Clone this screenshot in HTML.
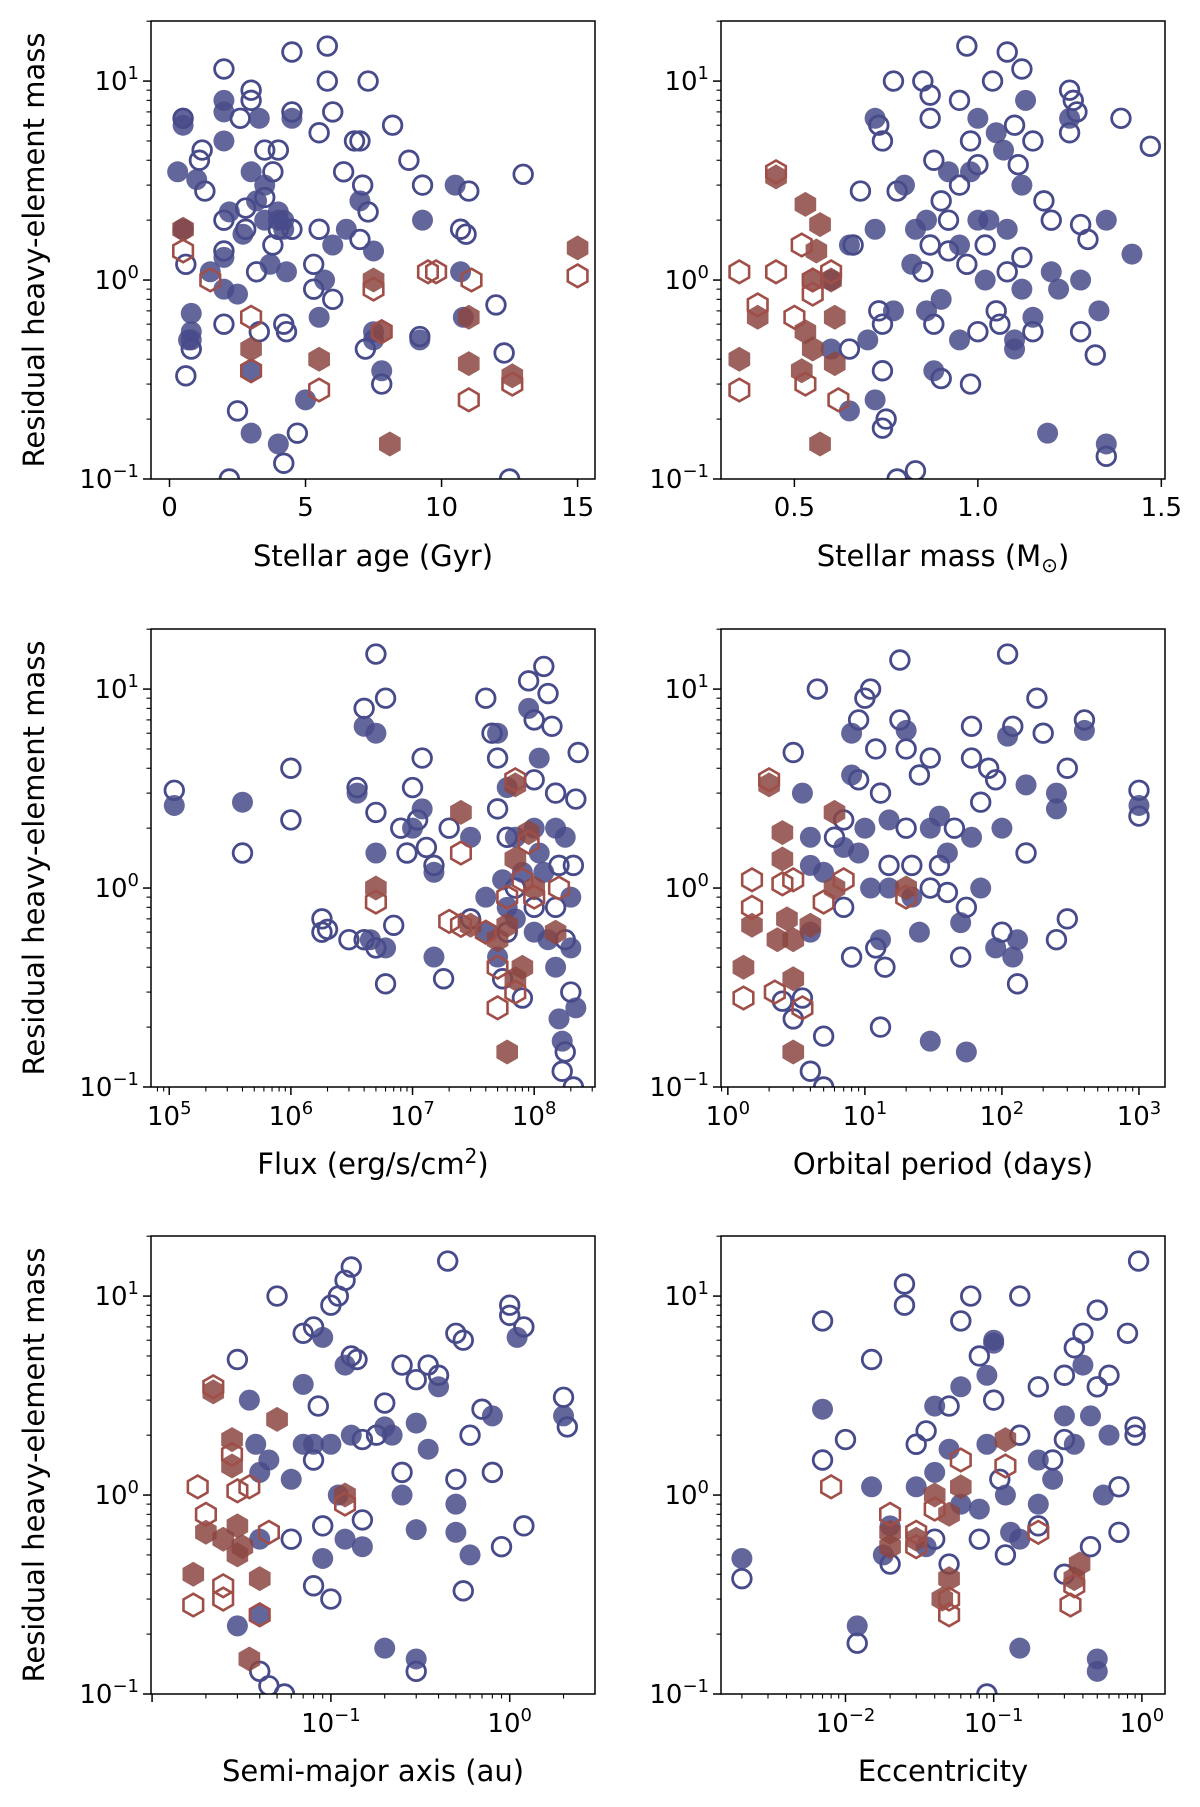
<!DOCTYPE html>
<html><head><meta charset="utf-8"><style>
body{margin:0;background:#fff}
svg{display:block;font-family:"DejaVu Sans","Liberation Sans",sans-serif}
</style></head><body>
<svg id="fig" width="1200" height="1807" viewBox="0 0 1200 1807" xmlns="http://www.w3.org/2000/svg"></svg>
<script>
// ---- data arrays (x, y) per panel ----
const ageFilled=[[0.3,3.5],[0.5,6.5],[0.5,6.0],[1,3.2],[0.8,0.55],[0.7,0.5],[0.8,0.5],[0.8,0.68],[2,8],[2,7],[2,5],[2,1.3],[2,0.9],[2.5,0.85],[3,0.35],[3,0.17],[3,3.5],[3.2,2.5],[3.3,6.5],[3.5,3],[3.7,1.2],[4,2],[4,2.2],[4.2,1.8],[4,0.15],[4.5,6.5],[4.3,1.1],[4.2,2.0],[5,0.25],[5.5,0.65],[5.7,1],[6,1.5],[6.5,1.8],[7,2.5],[7.5,1.4],[7.5,0.5],[7.5,0.55],[7.8,0.35],[9.3,2.0],[9.2,0.5],[10.5,3],[10.7,1.1],[10.8,0.65],[2.7,1.7],[3.5,2.0],[1.5,1.1],[2.2,2.2],[0.5,1.8]];
const ageOpen=[[0.5,6.5],[0.6,1.2],[0.6,0.33],[0.8,0.45],[1.2,4.5],[1.3,2.8],[1.1,4],[2,11.5],[2,2],[2,1.4],[2,0.6],[2.2,0.1],[2.5,0.22],[3,9],[3,8],[2.6,6.5],[2.8,1.8],[2.8,2.3],[3.2,1.1],[3.5,4.5],[3.3,0.55],[3.8,3.5],[4,4.5],[3.8,1.5],[4.2,0.6],[4.3,0.55],[4.2,0.12],[4.5,14],[4.5,7],[4.5,1.8],[4.7,0.17],[5.3,1.2],[5.3,0.9],[5.5,5.5],[5.8,15],[5.8,10],[6,7],[6,0.8],[6.4,3.5],[6.8,5],[7,5],[7.1,3],[7.3,10],[7.3,2.2],[7,1.6],[7.2,0.45],[7.8,0.3],[8.2,6],[8.8,4],[9.3,3],[9.2,0.52],[10.7,1.8],[10.9,1.7],[11,2.8],[12,0.75],[12.3,0.43],[12.5,0.1],[13,3.4],[5.5,1.8],[3.5,2.6],[4,1.8]];
const ageHexFilled=[[0.5,1.8],[3,0.45],[5.5,0.4],[7.5,1.0],[7.8,0.55],[8.1,0.15],[11,0.38],[11,0.65],[12.6,0.33],[15,1.45]];
const ageHexOpen=[[0.5,1.4],[1.5,1.0],[3,0.65],[3,0.35],[5.5,0.28],[7.5,0.9],[7.8,0.55],[9.5,1.1],[9.8,1.1],[11.1,1.0],[11,0.25],[12.6,0.3],[15,1.05]];

const massFilled=[[0.72,6.5],[0.72,1.8],[0.8,3],[0.77,0.7],[0.7,0.5],[0.65,0.22],[0.72,0.25],[0.83,1.8],[0.82,1.2],[0.86,2],[0.86,0.7],[0.88,0.35],[0.9,0.8],[0.92,3.5],[0.95,1.5],[0.95,0.5],[0.98,3.5],[1,2],[1.0,6.5],[1.02,1],[1.03,2],[1.05,5.5],[1.07,4.5],[1.08,1.8],[1.1,0.5],[1.1,0.45],[1.12,3],[1.12,0.9],[1.13,8],[1.15,0.65],[1.2,1.1],[1.22,0.9],[1.25,6.5],[1.28,1],[1.33,0.7],[1.35,2],[1.42,1.35],[1.19,0.17],[1.35,0.15],[0.6,0.45],[0.65,1.5],[0.6,1.0]];
const massOpen=[[0.73,6],[0.74,5],[0.73,0.7],[0.74,0.6],[0.74,0.35],[0.75,0.2],[0.74,0.18],[0.77,10],[0.78,2.8],[0.78,0.1],[0.83,0.11],[0.85,10],[0.87,8.5],[0.87,6.5],[0.88,4],[0.87,1.5],[0.88,0.6],[0.9,0.32],[0.92,2],[0.92,1.4],[0.95,8],[0.97,15],[0.98,5],[0.98,0.3],[1.0,0.55],[1.02,1.5],[1.04,10],[1.05,0.7],[1.06,0.6],[1.08,14],[1.1,6],[1.11,3.8],[1.12,1.3],[1.12,11.5],[1.15,5],[1.18,2.5],[1.2,2],[1.25,9],[1.25,5.5],[1.26,8],[1.27,7],[1.28,1.9],[1.28,0.55],[1.3,1.6],[1.32,0.42],[1.35,0.13],[1.39,6.5],[1.47,4.7],[0.95,3],[0.9,2.5],[1.0,3.8],[0.85,1.1],[0.97,1.2],[1.08,1.1],[1.15,0.55],[0.68,2.8],[0.66,1.5],[0.65,0.45]];
const massHexFilled=[[0.35,0.4],[0.4,0.65],[0.45,3.3],[0.53,2.4],[0.57,1.9],[0.56,1.4],[0.55,1.0],[0.53,0.55],[0.52,0.35],[0.55,0.45],[0.61,0.65],[0.61,0.38],[0.57,0.15],[0.6,1.0]];
const massHexOpen=[[0.35,1.1],[0.35,0.28],[0.4,0.75],[0.45,1.1],[0.45,3.5],[0.5,0.65],[0.52,1.5],[0.55,0.85],[0.55,1.0],[0.6,1.1],[0.53,0.3],[0.62,0.25]];

const fluxFilled=[[1.1e5,2.6],[4e5,2.7],[3.5e6,3],[4e6,6.5],[5e6,6],[5e6,1.5],[4.5e6,0.55],[6e6,0.5],[1e7,2],[1.2e7,2.5],[1.5e7,1.2],[1.5e7,0.45],[3e7,1.8],[4e7,0.6],[5e7,6],[5.5e7,1.1],[6e7,3.2],[6e7,0.8],[7e7,0.7],[8e7,1.2],[9e7,8],[1e8,2],[1e8,0.6],[1.1e8,4.5],[1.2e8,1.2],[1.3e8,0.55],[1.5e8,0.4],[1.5e8,2],[1.6e8,0.22],[1.7e8,0.17],[1.8e8,1.8],[2e8,0.9],[2e8,0.5],[2.2e8,0.25],[1.1e8,1.5],[5e7,0.45],[7e7,1.8],[4e7,0.9]];
const fluxOpen=[[1.1e5,3.1],[4e5,1.5],[1e6,4],[1e6,2.2],[1.8e6,0.7],[1.8e6,0.6],[2e6,0.62],[3e6,0.55],[3.5e6,3.2],[4e6,8],[4e6,0.55],[5e6,15],[5e6,2.4],[5e6,0.5],[6e6,9],[6e6,0.33],[7e6,0.65],[8e6,2],[9e6,1.5],[1e7,3.2],[1.1e7,2.2],[1.2e7,4.5],[1.3e7,1.6],[1.5e7,1.3],[1.8e7,0.35],[2e7,2],[3e7,0.7],[4e7,9],[4.5e7,6],[5e7,4.5],[5e7,2.5],[5.5e7,0.35],[6e7,0.6],[7e7,1],[8e7,0.28],[9e7,11],[1e8,7],[1e8,3.5],[1e8,0.8],[1.2e8,13],[1.3e8,9.5],[1.4e8,6.5],[1.5e8,3],[1.6e8,1.3],[1.5e8,0.8],[1.7e8,0.12],[1.8e8,0.15],[2e8,0.3],[2.1e8,1.3],[2.2e8,2.8],[2.3e8,4.8],[2.1e8,0.1],[1.8e8,0.55],[6e7,1.8]];
const fluxHexFilled=[[5e6,1.0],[2.5e7,2.4],[3e7,0.65],[5e7,0.55],[6e7,0.65],[6e7,0.15],[7e7,3.3],[7e7,1.4],[8e7,0.4],[9e7,1.9],[1e8,1.0],[1.5e8,0.6],[7e7,0.35]];
const fluxHexOpen=[[5e6,0.85],[2.5e7,1.5],[2.5e7,0.65],[2e7,0.68],[4e7,0.6],[5e7,0.25],[5e7,0.4],[7e7,0.3],[7e7,3.5],[8e7,1.1],[9e7,1.7],[1e8,0.9],[1.6e8,1.0],[6e7,0.9]];

const perFilled=[[3.5,3],[4,0.6],[4,1.3],[4,1.8],[5,1.2],[7,1.6],[8,6],[8,3.7],[9,1.5],[10,2],[11,1],[13,0.55],[15,2.2],[20,6.2],[22,0.9],[30,2],[30,0.17],[35,2.3],[40,1.5],[50,0.67],[55,0.15],[60,1.8],[70,1.0],[90,0.5],[100,2],[110,5.8],[120,0.45],[130,0.55],[150,3.3],[250,3],[250,2.5],[400,6.2],[1000,2.6],[15,1.0],[25,0.6]];
const perOpen=[[2.5,0.27],[3,4.8],[3.5,0.28],[3,0.22],[4,0.12],[4.5,10],[5,0.18],[5,0.1],[6,1.8],[7,2.2],[7,0.8],[8,0.45],[9,7],[9,3.5],[10,9],[11,10],[12,5],[13,0.2],[13,3],[14,0.4],[15,1.3],[18,14],[18,7],[20,5],[20,2],[22,1.3],[25,3.7],[30,4.5],[35,1.3],[40,0.95],[45,2],[50,0.45],[55,0.8],[60,6.5],[60,4.5],[70,2.7],[80,4],[90,3.5],[100,0.6],[110,15],[120,6.5],[130,0.33],[150,1.5],[180,9],[200,6],[250,0.55],[300,0.7],[300,4],[400,7],[1000,3.1],[1000,2.3],[30,1.0],[12,0.5]];
const perHexFilled=[[1.3,0.4],[1.5,0.65],[2,3.3],[2.3,0.55],[2.5,1.9],[2.5,1.4],[2.7,0.7],[3,0.55],[3,0.35],[3,0.15],[4,0.65],[6,2.4],[6,1.0],[20,1.0]];
const perHexOpen=[[1.3,0.28],[1.5,1.1],[1.5,0.8],[2,3.5],[2.2,0.3],[2.5,1.05],[3,1.1],[3.5,0.25],[5,0.85],[7,1.1],[20,0.9]];

const smaFilled=[[0.035,3],[0.038,1.8],[0.04,1.3],[0.04,0.6],[0.04,0.25],[0.045,1.5],[0.06,1.2],[0.07,1.8],[0.07,3.6],[0.08,1.8],[0.09,6.2],[0.09,0.48],[0.1,1.8],[0.11,1.0],[0.12,0.6],[0.12,4.5],[0.13,2],[0.15,0.55],[0.2,2.2],[0.2,0.17],[0.25,1.0],[0.3,0.67],[0.3,2.3],[0.3,0.15],[0.35,1.7],[0.4,3.5],[0.5,0.65],[0.5,0.9],[0.6,0.5],[0.8,2.5],[1.1,6.2],[2,2.5],[0.03,0.22],[0.22,2.0]];
const smaOpen=[[0.03,4.8],[0.04,0.13],[0.045,0.11],[0.05,10],[0.055,0.1],[0.07,6.5],[0.08,7],[0.08,0.35],[0.085,2.8],[0.09,0.7],[0.1,9],[0.11,10],[0.12,12],[0.13,14],[0.13,5],[0.14,4.8],[0.15,1.9],[0.18,2],[0.2,2.9],[0.25,4.5],[0.3,3.8],[0.3,0.13],[0.35,4.5],[0.4,4],[0.45,15],[0.5,6.5],[0.55,6],[0.55,0.33],[0.6,2],[0.8,1.3],[0.9,0.55],[1,9],[1,8],[1.2,7],[1.2,0.7],[2,3.1],[2.1,2.2],[0.15,0.75],[0.5,1.2],[0.08,1.5],[0.06,0.6],[0.1,0.3],[0.25,1.3],[0.7,2.7]];
const smaHexFilled=[[0.017,0.4],[0.02,0.65],[0.022,3.3],[0.025,0.6],[0.028,1.9],[0.028,1.4],[0.03,0.5],[0.032,0.55],[0.035,0.15],[0.04,0.38],[0.05,2.4],[0.12,1.0],[0.03,0.7]];
const smaHexOpen=[[0.017,0.28],[0.018,1.1],[0.022,3.5],[0.025,0.35],[0.025,0.3],[0.028,1.6],[0.03,1.05],[0.035,1.1],[0.04,0.25],[0.045,0.65],[0.12,0.9],[0.02,0.8]];

const eccFilled=[[0.002,0.48],[0.007,2.7],[0.012,0.22],[0.015,1.1],[0.018,0.5],[0.02,0.7],[0.03,1.1],[0.035,0.55],[0.04,1.3],[0.04,2.8],[0.05,1.7],[0.06,3.5],[0.06,0.9],[0.08,0.85],[0.09,1.8],[0.1,6],[0.12,1.0],[0.13,0.65],[0.15,0.17],[0.15,0.6],[0.2,1.5],[0.2,0.9],[0.25,1.2],[0.3,2.5],[0.35,1.8],[0.4,4.5],[0.45,2.5],[0.5,0.15],[0.5,0.13],[0.55,1.0],[0.6,2],[0.1,5.8],[0.09,4]];
const eccOpen=[[0.002,0.38],[0.007,7.5],[0.007,1.5],[0.01,1.9],[0.012,0.18],[0.015,4.8],[0.02,0.45],[0.025,11.5],[0.025,9],[0.03,1.8],[0.035,2.1],[0.04,0.6],[0.05,2.8],[0.06,7.5],[0.07,10],[0.08,5],[0.08,0.6],[0.09,0.1],[0.1,3],[0.11,1.2],[0.12,0.5],[0.15,10],[0.15,2],[0.2,3.5],[0.2,0.7],[0.25,1.5],[0.3,4],[0.3,1.9],[0.35,5.5],[0.4,6.5],[0.45,0.55],[0.5,8.5],[0.5,3.5],[0.6,4],[0.7,0.65],[0.8,6.5],[0.9,2.2],[0.95,15],[0.9,2.0],[0.3,0.4],[0.05,0.45],[0.7,1.1]];
const eccHexFilled=[[0.02,0.65],[0.03,0.6],[0.04,1.0],[0.05,0.38],[0.05,0.8],[0.06,1.1],[0.12,1.9],[0.35,0.38],[0.38,0.45],[0.02,0.55],[0.045,0.3]];
const eccHexOpen=[[0.008,1.1],[0.02,0.8],[0.03,0.55],[0.04,0.85],[0.05,0.25],[0.05,0.3],[0.06,1.5],[0.12,1.4],[0.2,0.65],[0.33,0.28],[0.35,0.35],[0.03,0.65]];

const linTicksAge=[0,5,10,15];
const linTicksMass=[0.5,1.0,1.5];
const expFlux=[5,6,7,8];
const expPer=[0,1,2,3];
const expSma=[-1,0];
const expEcc=[-2,-1,0];
const yExp=[-1,0,1];

const NS="http://www.w3.org/2000/svg";
const svg=document.getElementById('fig');
function mk(tag,attrs,parent){const e=document.createElementNS(NS,tag);for(const k in attrs)e.setAttribute(k,attrs[k]);(parent||svg).appendChild(e);return e;}
const NAVY="rgb(72,75,138)", RED="rgb(140,70,65)", REDO="rgb(160,78,72)";
const cols=[[151,595],[721,1165]], rows=[[21,479],[629,1087],[1236,1694]];
const yMin=-1, yMax=1.302;
const TF=26, SF=18, AF=29;

const panels=[
 {name:'age',c:0,r:0,log:false,min:-0.68,max:15.64,ticks:linTicksAge,label:'Stellar age (Gyr)',d:[ageFilled,ageOpen,ageHexFilled,ageHexOpen]},
 {name:'mass',c:1,r:0,log:false,min:0.30,max:1.51,ticks:linTicksMass,label:'MASS',d:[massFilled,massOpen,massHexFilled,massHexOpen]},
 {name:'flux',c:0,r:1,log:true,min:4.85,max:8.5,ticks:expFlux,label:'FLUX',d:[fluxFilled,fluxOpen,fluxHexFilled,fluxHexOpen]},
 {name:'period',c:1,r:1,log:true,min:-0.05,max:3.19,ticks:expPer,label:'Orbital period (days)',d:[perFilled,perOpen,perHexFilled,perHexOpen]},
 {name:'sma',c:0,r:2,log:true,min:-2.006,max:0.477,ticks:expSma,label:'Semi-major axis (au)',d:[smaFilled,smaOpen,smaHexFilled,smaHexOpen]},
 {name:'ecc',c:1,r:2,log:true,min:-2.84,max:0.156,ticks:expEcc,label:'Eccentricity',d:[eccFilled,eccOpen,eccHexFilled,eccHexOpen]},
];

function hexPts(cx,cy,R){let p=[];for(let i=0;i<6;i++){const a=Math.PI/2+i*Math.PI/3;p.push((cx+R*Math.cos(a)).toFixed(1)+','+(cy-R*Math.sin(a)).toFixed(1));}return p.join(' ');}
function powLabel(g,x,y,exp,anchor){
  const t=mk('text',{x:x,y:y,'font-size':TF,'text-anchor':anchor,fill:'#000'},g);
  
  
  const a=mk('tspan',{},t);a.textContent='10';
  const b=mk('tspan',{dy:-11,'font-size':SF},t);b.textContent=exp<0?'\u2212'+(-exp):String(exp);
  return t;
}

panels.forEach(P=>{
  const [x0,x1]=cols[P.c],[y0,y1]=rows[P.r];
  const g=mk('g',{});
  
  
  const sx=v=>{const u=P.log?Math.log10(v):v;return x0+(u-P.min)/(P.max-P.min)*(x1-x0);};
  const sy=v=>y1-(Math.log10(v)-yMin)/(yMax-yMin)*(y1-y0);
  const clipId='clip-'+P.name;
  const cp=mk('clipPath',{id:clipId},g);mk('rect',{x:x0,y:y0,width:x1-x0,height:y1-y0},cp);
  const mg=mk('g',{'clip-path':'url(#'+clipId+')'},g);
  
  
  const [F,O,HF,HO]=P.d;
  F.forEach(p=>{const e=mk('circle',{cx:sx(p[0]),cy:sy(p[1]),r:10.5,fill:NAVY,'fill-opacity':0.85},mg);
    
    });
  O.forEach(p=>{const e=mk('circle',{cx:sx(p[0]),cy:sy(p[1]),r:9.3,fill:'none',stroke:NAVY,'stroke-width':2.8},mg);
    
    });
  HF.forEach(p=>{const e=mk('polygon',{points:hexPts(sx(p[0]),sy(p[1]),12.5),fill:RED,'fill-opacity':0.85},mg);
    
    });
  HO.forEach(p=>{const e=mk('polygon',{points:hexPts(sx(p[0]),sy(p[1]),11.3),fill:'none',stroke:REDO,'stroke-width':2.6},mg);
    
    });
  const fr=mk('rect',{x:x0,y:y0,width:x1-x0,height:y1-y0,fill:'none',stroke:'#000','stroke-width':1.5},g);
  
  
  for(let e=-1;e<=1;e++){for(let m=1;m<10;m++){const v=m*Math.pow(10,e);if(Math.log10(v)>yMax)break;const y=sy(v);
      mk('line',{x1:x0,x2:x0-(m===1?8:4.5),y1:y,y2:y,stroke:'#000','stroke-width':m===1?1.5:1.1},g);}}
  yExp.forEach(e=>powLabel(g,x0-12,sy(Math.pow(10,e))+9,e,'end'));
  if(P.log){
    for(let e=Math.floor(P.min);e<=Math.ceil(P.max);e++){for(let m=1;m<10;m++){const u=Math.log10(m)+e;if(u<P.min||u>P.max)continue;const x=sx(Math.pow(10,u));
      mk('line',{x1:x,x2:x,y1:y1,y2:y1+(m===1?8:4.5),stroke:'#000','stroke-width':m===1?1.5:1.1},g);}}
    P.ticks.forEach(e=>powLabel(g,sx(Math.pow(10,e)),y1+38,e,'middle'));
  } else {
    P.ticks.forEach(v=>{const x=sx(v);mk('line',{x1:x,x2:x,y1:y1,y2:y1+8,stroke:'#000','stroke-width':1.5},g);
      const t=mk('text',{x:x,y:y1+37,'font-size':TF,'text-anchor':'middle'},g);
      
      
      t.textContent=P.name==='age'?String(v):v.toFixed(1);});
  }
  const xl=mk('text',{x:(x0+x1)/2,y:y1+87,'font-size':AF,'text-anchor':'middle'},g);
  
  
  if(P.label==='FLUX'){const a=mk('tspan',{},xl);a.textContent='Flux (erg/s/cm';const b=mk('tspan',{dy:-11,'font-size':20},xl);b.textContent='2';const c=mk('tspan',{dy:11},xl);c.textContent=')';}
  else if(P.label==='MASS'){const a=mk('tspan',{},xl);a.textContent='Stellar mass (M';const b=mk('tspan',{dy:6,'font-size':20},xl);b.textContent='\u2299';const c=mk('tspan',{dy:-6},xl);c.textContent=')';}
  else xl.textContent=P.label;
  if(P.c===0){const yl=mk('text',{x:0,y:0,'font-size':AF,'text-anchor':'middle',transform:'translate(44,'+((y0+y1)/2)+') rotate(-90)'},g);
    
    
    yl.textContent='Residual heavy-element mass';}
});
</script>
</body></html>
